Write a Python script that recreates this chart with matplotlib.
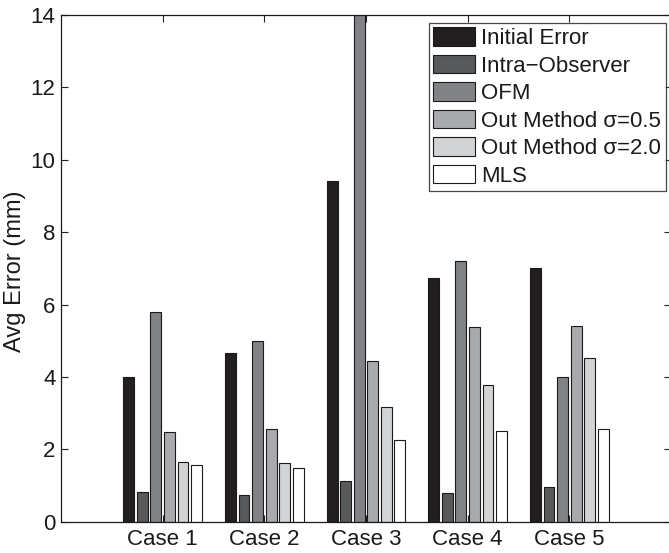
import matplotlib
matplotlib.use("Agg")
import matplotlib.pyplot as plt
import numpy as np

plt.rcParams['font.family'] = ['Liberation Sans', 'DejaVu Sans']

cases = ["Case 1", "Case 2", "Case 3", "Case 4", "Case 5"]
series_names = ["Initial Error", "Intra\u2212Observer", "OFM",
                "Out Method \u03c3=0.5", "Out Method \u03c3=2.0", "MLS"]
initial_error = [4.00, 4.65, 9.42, 6.72, 7.00]
intra_observer = [0.83, 0.73, 1.13, 0.78, 0.95]
ofm = [5.80, 5.00, 14.50, 7.20, 4.00]
ours_sigma05 = [2.47, 2.55, 4.43, 5.38, 5.42]
ours_sigma20 = [1.65, 1.63, 3.18, 3.77, 4.53]
mls = [1.57, 1.47, 2.27, 2.50, 2.55]
y_ticks = [0, 2, 4, 6, 8, 10, 12, 14]

series = [initial_error, intra_observer, ofm, ours_sigma05, ours_sigma20, mls]
colors = ["#231f20", "#58595b", "#808285", "#a9aaad", "#d2d3d5", "#ffffff"]

fig = plt.figure(figsize=(6.69, 5.53), dpi=100)
W, H = 669, 553
left, right, top, bottom = 61, 671, 15, 521.7
ax = fig.add_axes([left / W, 1 - bottom / H, (right - left) / W, (bottom - top) / H])

x = np.arange(1, len(cases) + 1)
n = len(series)
slot = 0.8 / n
width = slot * 0.8
for i, (vals, name, c) in enumerate(zip(series, series_names, colors)):
    ax.bar(x + (i - (n - 1) / 2) * slot, vals, width, color=c,
           edgecolor="#1a1a1a", linewidth=0.8, label=name, zorder=2)

ax.set_xlim(0, 6)
ax.set_ylim(0, 14)
ax.set_xticks(x)
ax.set_xticklabels(cases)
ax.set_yticks(y_ticks)
ax.tick_params(direction="in", length=5, width=0.8, colors="#222222",
               labelcolor="#1a1a1a", labelsize=16, top=True, right=True)
ax.tick_params(axis="x", pad=5)
ax.tick_params(axis="y", pad=4)
for s in ax.spines.values():
    s.set_linewidth(0.9)
    s.set_color("#1a1a1a")

ax.set_ylabel("Avg Error (mm)", fontsize=17, color="#1a1a1a")
ax.yaxis.set_label_coords(-0.058, 0.495)

leg = ax.legend(loc="upper left", bbox_to_anchor=(429 / W, 1 - 23 / H),
                bbox_transform=fig.transFigure, borderaxespad=0,
                fontsize=16, frameon=True, fancybox=False,
                handlelength=1.85, handleheight=0.9, handletextpad=0.3,
                labelspacing=0.25, borderpad=0.2)
leg.get_frame().set_edgecolor("#1a1a1a")
leg.get_frame().set_linewidth(0.9)
for t in leg.get_texts():
    t.set_color("#1a1a1a")

fig.savefig("out.png", dpi=100)
